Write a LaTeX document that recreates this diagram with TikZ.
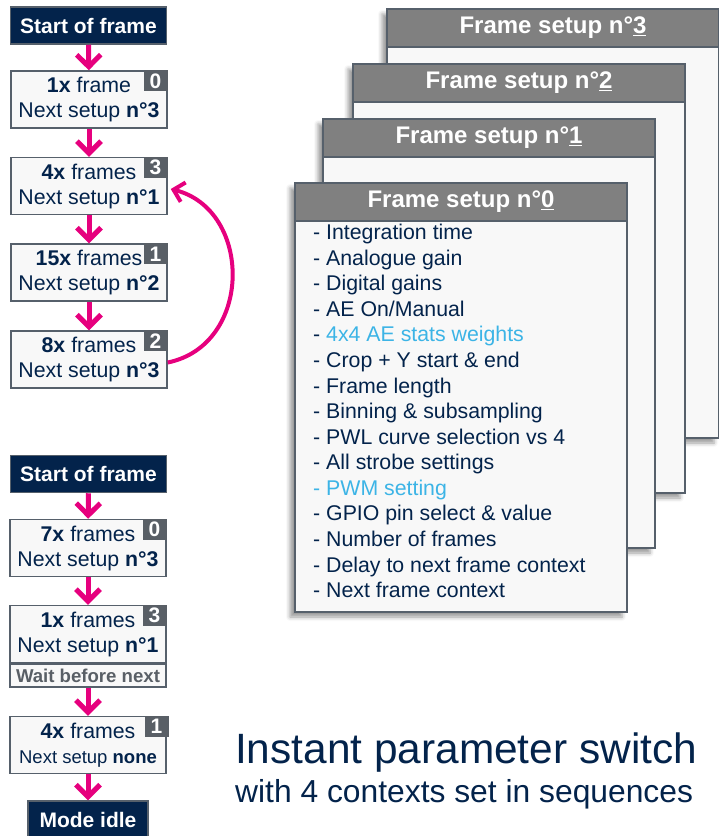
\documentclass[tikz,border=0pt]{standalone}
\usepackage{fontspec}
\setmainfont{Liberation Sans}
\usetikzlibrary{positioning, arrows.meta, shadows.blur}

\definecolor{stnavy}{HTML}{03234B}
\definecolor{stpink}{HTML}{E6007E}
\definecolor{stblue}{HTML}{3CB4E6}
\definecolor{boxgray}{HTML}{56606B}
\definecolor{badgegray}{HTML}{595F66}
\definecolor{headgray}{HTML}{808080}
\definecolor{boxfill}{HTML}{F8F8F8}

\begin{document}
\begin{tikzpicture}[x=1pt, y=-1pt,
    stepbox/.style={draw=boxgray, line width=1.5pt, fill=boxfill, minimum width=156pt, minimum height=57pt, inner sep=0pt, align=center, text=stnavy, font=\fontsize{21.3}{25}\selectfont},
    startbox/.style={draw=boxgray, line width=1.5pt, fill=stnavy, minimum width=156pt, minimum height=37pt, inner sep=0pt, text=white, font=\bfseries\fontsize{21}{21}\selectfont},
    badge/.style={fill=badgegray, minimum width=24pt, minimum height=21pt, inner sep=0pt, anchor=north east, text=white, font=\bfseries\fontsize{21}{21}\selectfont},
    waitbox/.style={draw=boxgray, line width=1.5pt, fill=boxfill, minimum width=156pt, minimum height=23pt, inner sep=0pt, anchor=north, text=badgegray, font=\bfseries\fontsize{18.6}{18.6}\selectfont},
    flow/.style={draw=stpink, line width=5pt, -{Straight Barb[length=12pt, width=24pt]}},
    card/.style={draw=boxgray, line width=2pt, fill=boxfill, minimum width=332pt, minimum height=429pt, anchor=north west,
        blur shadow={shadow xshift=-5pt, shadow yshift=-5pt, shadow blur radius=4pt, shadow opacity=40}},
    cardhead/.style={draw=boxgray, line width=2pt, fill=headgray, minimum width=332pt, minimum height=38pt, inner sep=0pt, anchor=north, text=white, font=\bfseries\fontsize{24}{24}\selectfont},
    item/.style={anchor=base west, inner sep=0pt, text=stnavy, font=\fontsize{21.3}{25.6}\selectfont}
]
    \useasboundingbox (0,0) rectangle (719,836);

    % looping sequence
    \node[startbox] (sof1) at (88.5,25.5) {Start of frame};
    \node[stepbox] (a0) at (89,99.5) {\textbf{1x} frame\\Next setup \textbf{n°3}};
    \node[stepbox] (a3) at (89,186) {\textbf{4x} frames\\Next setup \textbf{n°1}};
    \node[stepbox] (a1) at (89,272.5) {\textbf{15x} frames\\Next setup \textbf{n°2}};
    \node[stepbox] (a2) at (89,359.5) {\textbf{8x} frames\\Next setup \textbf{n°3}};
    \node[badge] at (a0.north east) {0};
    \node[badge] at (a3.north east) {3};
    \node[badge] at (a1.north east) {1};
    \node[badge] at (a2.north east) {2};

    \draw[flow] (sof1) -- (a0);
    \draw[flow] (a0) -- (a3);
    \draw[flow] (a3) -- (a1);
    \draw[flow] (a1) -- (a2);
    \draw[draw=stpink, line width=4pt, -{Straight Barb[length=10pt, width=20pt]}]
        ([yshift=-3pt]a2.east) .. controls (253,345) and (253,210) .. ([xshift=3pt, yshift=-3pt]a3.east);

    % one-shot sequence
    \node[startbox] (sof2) at (88.5,474) {Start of frame};
    \node[stepbox] (c0) at (88,548) {\textbf{7x} frames\\Next setup \textbf{n°3}};
    \node[stepbox] (c3) at (88,634) {\textbf{1x} frames\\Next setup \textbf{n°1}};
    \node[waitbox] (wait) at (c3.south) {Wait before next};
    \node[stepbox] (c1) at (88,745) {\textbf{4x} frames\\{\fontsize{18.5}{22}\selectfont Next setup \textbf{none}}};
    \node[badge] at (c0.north east) {0};
    \node[badge] at (c3.north east) {3};
    \node[badge] at ([xshift=2pt]c1.north east) {1};
    \node[startbox, minimum width=120pt, minimum height=38pt] (idle) at (88,820) {Mode idle};

    \draw[flow] (sof2) -- (c0);
    \draw[flow] (c0) -- (c3);
    \draw[flow] (wait) -- (c1);
    \draw[flow] (c1) -- (idle);

    % stacked frame setups, back to front
    \foreach \n/\x/\y in {3/386/8, 2/352/63, 1/322/118, 0/294/182} {
        \node[card] (card\n) at (\x,\y) {};
        \node[cardhead] (head\n) at (card\n.north) {Frame setup n°\underline{\n}};
    }

    \foreach \txt [count=\i] in {- Integration time, - Analogue gain, - Digital gains, - AE On/Manual,
        {- \color{stblue}4x4 AE stats weights}, - Crop + Y start \& end, - Frame length,
        - Binning \& subsampling, - PWL curve selection vs 4, - All strobe settings,
        {\color{stblue}- PWM setting}, - GPIO pin select \& value, - Number of frames,
        - Delay to next frame context, - Next frame context}
        \node[item] (item\i) at (313,{239.6+(\i-1)*25.57}) {\txt};

    \node[anchor=base west, inner sep=0pt, text=stnavy, font=\fontsize{42.4}{42.4}\selectfont] (title) at (235,763) {Instant parameter switch};
    \node[anchor=base west, inner sep=0pt, text=stnavy, font=\fontsize{31.8}{31.8}\selectfont] (subtitle) at (235,802) {with 4 contexts set in sequences};
\end{tikzpicture}
\end{document}
